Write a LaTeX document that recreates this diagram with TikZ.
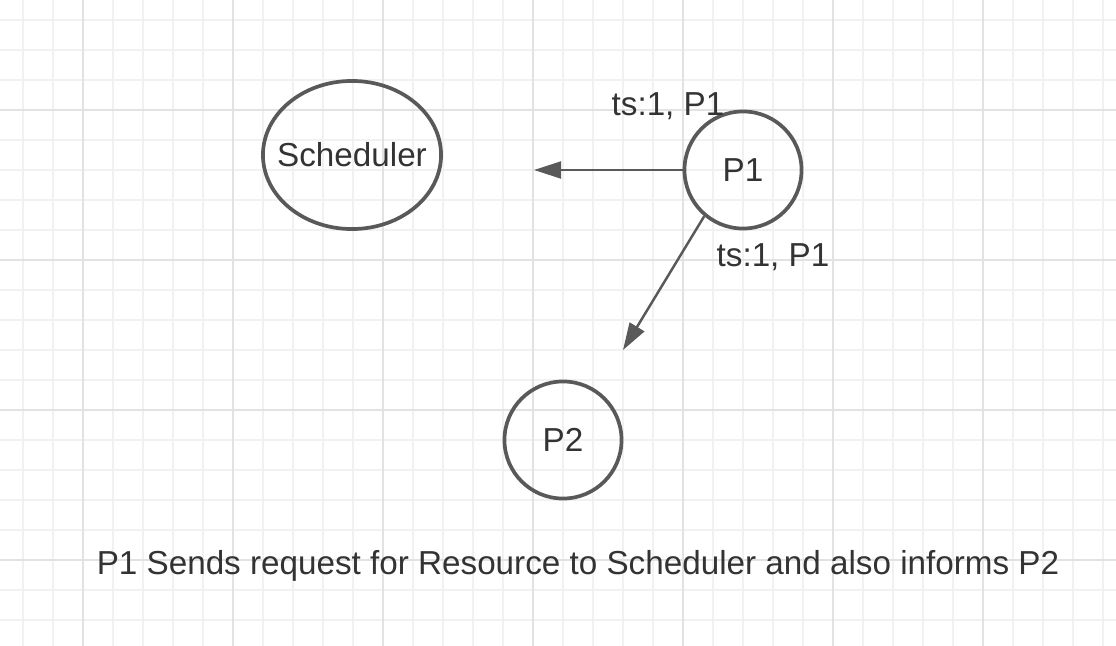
\documentclass[tikz,border=0pt]{standalone}
\usepackage{fontspec}
\setmainfont{Liberation Sans}
\usetikzlibrary{shapes.geometric,arrows.meta}
\definecolor{linecolor}{HTML}{595959}
\definecolor{textcolor}{HTML}{333333}
\definecolor{minorgrid}{HTML}{F1F1F1}
\definecolor{majorgrid}{HTML}{E2E2E2}
\tikzset{
  proc/.style = {circle, draw = linecolor, line width = 1.05pt, minimum size = 1.17cm, inner sep = 0pt, text = textcolor, font = \fontsize{9.45}{11}\selectfont},
  msg/.style = {draw = linecolor, line width = 0.7pt, -{Triangle[length = 7.7pt, width = 4.8pt]}},
  lbl/.style = {text = textcolor, inner sep = 0pt, font = \fontsize{9.45}{11}\selectfont}
}
\begin{document}
\begin{tikzpicture}[x = 0.01cm, y = -0.01cm]
\useasboundingbox (0,0) rectangle (1116,646);
\fill[white] (0,0) rectangle (1116,646);
% grid
\foreach \gx in {23,53,...,1116} \draw[minorgrid, line width = 0.3pt] (\gx,0) -- (\gx,646);
\foreach \gy in {20,50,...,646} \draw[minorgrid, line width = 0.3pt] (0,\gy) -- (1116,\gy);
\foreach \gx in {83,233,...,1116} \draw[majorgrid, line width = 0.3pt] (\gx,0) -- (\gx,646);
\foreach \gy in {110,260,...,646} \draw[majorgrid, line width = 0.3pt] (0,\gy) -- (1116,\gy);
% nodes
\node[proc, ellipse, minimum width = 1.78cm, minimum height = 1.48cm] (sched) at (352,155) {\makebox[0pt]{Scheduler}};
\node[proc] (p1) at (743,170) {P1};
\node[proc] (p2) at (563,440) {P2};
\coordinate (toSched) at (534,170);
\coordinate (toP2) at (623,350);
% messages
\draw[msg] (p1.west) -- (toSched);
\draw[msg] (p1.230) -- (toP2);
\node[lbl] (lblA) at (668,106) {ts:1, P1};
\node[lbl] (lblB) at (773,257) {ts:1, P1};
\node[lbl] (caption) at (578,566) {P1 Sends request for Resource to Scheduler and also informs P2};
\end{tikzpicture}
\end{document}
